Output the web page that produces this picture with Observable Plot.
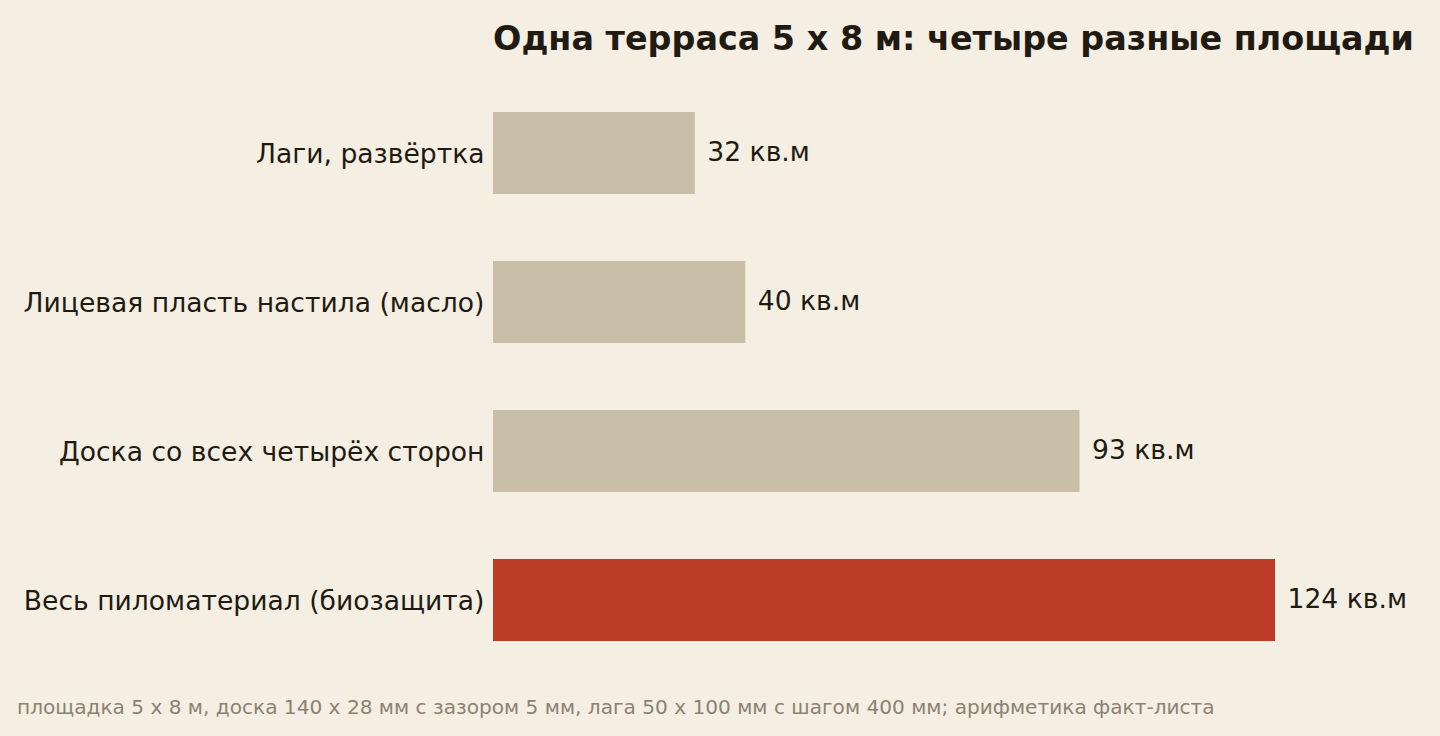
<!DOCTYPE html>
<html><head><meta charset="utf-8">
<script src="https://cdn.jsdelivr.net/npm/d3@7"></script>
<script src="https://cdn.jsdelivr.net/npm/@observablehq/plot@0.6"></script>
<style>
html,body{margin:0;padding:0;background:#f5efe3;width:1440px;height:736px;overflow:hidden;font-family:"DejaVu Sans",sans-serif;}
#title{position:absolute;left:493px;top:19px;font-size:33.4px;font-weight:bold;color:#1f1a12;white-space:nowrap;line-height:1.2;}
#chart{position:absolute;left:0;top:0;}
#caption{position:absolute;left:17px;top:695px;font-size:20.1px;color:#8a8272;white-space:nowrap;line-height:1.2;}
</style></head>
<body>
<div id="chart"></div>
<div id="title">Одна терраса 5 x 8 м: четыре разные площади</div>
<div id="caption">площадка 5 x 8 м, доска 140 x 28 мм с зазором 5 мм, лага 50 x 100 мм с шагом 400 мм; арифметика факт-листа</div>
<script>
const categories = ["Лаги, развёртка", "Лицевая пласть настила (масло)", "Доска со всех четырёх сторон", "Весь пиломатериал (биозащита)"];
const values = [32, 40, 93, 124];
const highlight = [false, false, false, true];
const unit = "кв.м";

const data = categories.map((c, i) => ({cat: c, value: values[i], hi: highlight[i], label: `${values[i]} ${unit}`}));

const chart = Plot.plot({
  width: 1440,
  height: 736,
  marginTop: 78.5,
  marginBottom: 61.5,
  marginLeft: 493,
  marginRight: 165,
  style: {background: "transparent", fontFamily: "DejaVu Sans, sans-serif", color: "#1f1a12"},
  x: {domain: [0, 124], axis: null},
  y: {domain: categories, paddingInner: 0.45, paddingOuter: 0.225, label: null},
  marks: [
    Plot.barX(data, {y: "cat", x: "value", fill: d => d.hi ? "#bc3d26" : "#c9bfa7"}),
    Plot.text(data, {y: "cat", x: "value", text: "label", textAnchor: "start", dx: 12, dy: -1, fontSize: 26.6, fill: "#1f1a12"}),
    Plot.axisY({tickSize: 0, tickPadding: 9, dy: 1, fontSize: 26.6, label: null, fill: "#1f1a12"})
  ]
});
document.getElementById("chart").appendChild(chart);
</script>
</body></html>
